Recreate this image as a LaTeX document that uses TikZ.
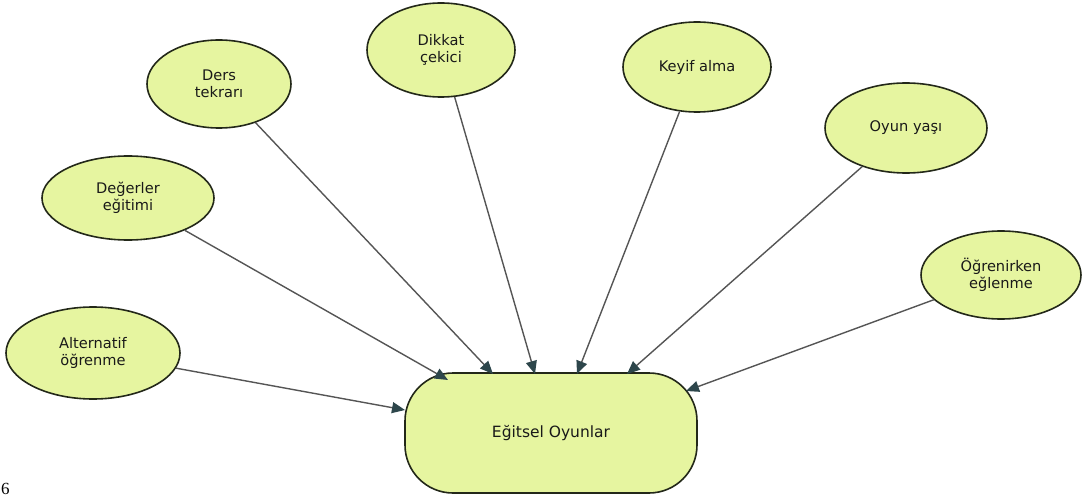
\documentclass[tikz,border=0pt]{standalone}
\usepackage{fontspec}
\setmainfont{DejaVu Sans}
\newfontfamily\numfont{Liberation Serif}
\usetikzlibrary{shapes.geometric,arrows.meta}
\definecolor{leaf}{RGB}{230,245,160}
\definecolor{edgeline}{RGB}{35,40,25}
\definecolor{conn}{RGB}{85,85,85}
\definecolor{tipc}{RGB}{45,70,75}
\tikzset{
  bubble/.style={ellipse, draw=edgeline, line width=1.6pt, fill=leaf, inner sep=0pt,
    align=center, text=black!90, font=\fontsize{14.6}{17.5}\selectfont},
  hub/.style={rectangle, draw=edgeline, line width=1.6pt, fill=leaf, rounded corners=48pt,
    minimum width=292pt, minimum height=120pt, text=black!90,
    font=\fontsize{15.5}{18}\selectfont},
  conarrow/.style={draw=conn, line width=1.4pt,
    -{Triangle[length=13pt,width=11pt,fill=tipc,color=tipc]}}
}
\begin{document}
\begin{tikzpicture}[x=1pt,y=-1pt]
\useasboundingbox (0,0) rectangle (1084,497);
\node[hub] (hub) at (551,433) {Eğitsel Oyunlar};
\node[bubble, minimum width=174pt, minimum height=92pt] (alt) at (93,353) {Alternatif\\öğrenme};
\node[bubble, minimum width=172pt, minimum height=84pt] (deg) at (128,198) {Değerler\\eğitimi};
\node[bubble, minimum width=144pt, minimum height=88pt] (ders) at (219,84) {Ders\\tekrarı};
\node[bubble, minimum width=148pt, minimum height=94pt] (dik) at (441,50) {Dikkat\\çekici};
\node[bubble, minimum width=148pt, minimum height=90pt] (key) at (697,67) {Keyif alma};
\node[bubble, minimum width=162pt, minimum height=90pt] (oyun) at (906,128) {Oyun yaşı};
\node[bubble, minimum width=160pt, minimum height=88pt] (ogr) at (1001,275) {Öğrenirken\\eğlenme};
\node[font=\numfont\fontsize{17}{19}\selectfont, inner sep=0pt, anchor=base west] (pg) at (1,494) {6};
\coordinate (t1) at (405,410);
\coordinate (t2) at (448,380);
\coordinate (t3) at (493,374);
\coordinate (t4) at (535,374);
\coordinate (t5) at (577,374);
\coordinate (t6) at (627,374);
\coordinate (t7) at (686,391);
\draw[conarrow] (alt) -- (t1);
\draw[conarrow] (deg) -- (t2);
\draw[conarrow] (ders) -- (t3);
\draw[conarrow] (dik) -- (t4);
\draw[conarrow] (key) -- (t5);
\draw[conarrow] (oyun) -- (t6);
\draw[conarrow] (ogr) -- (t7);
\end{tikzpicture}
\end{document}
